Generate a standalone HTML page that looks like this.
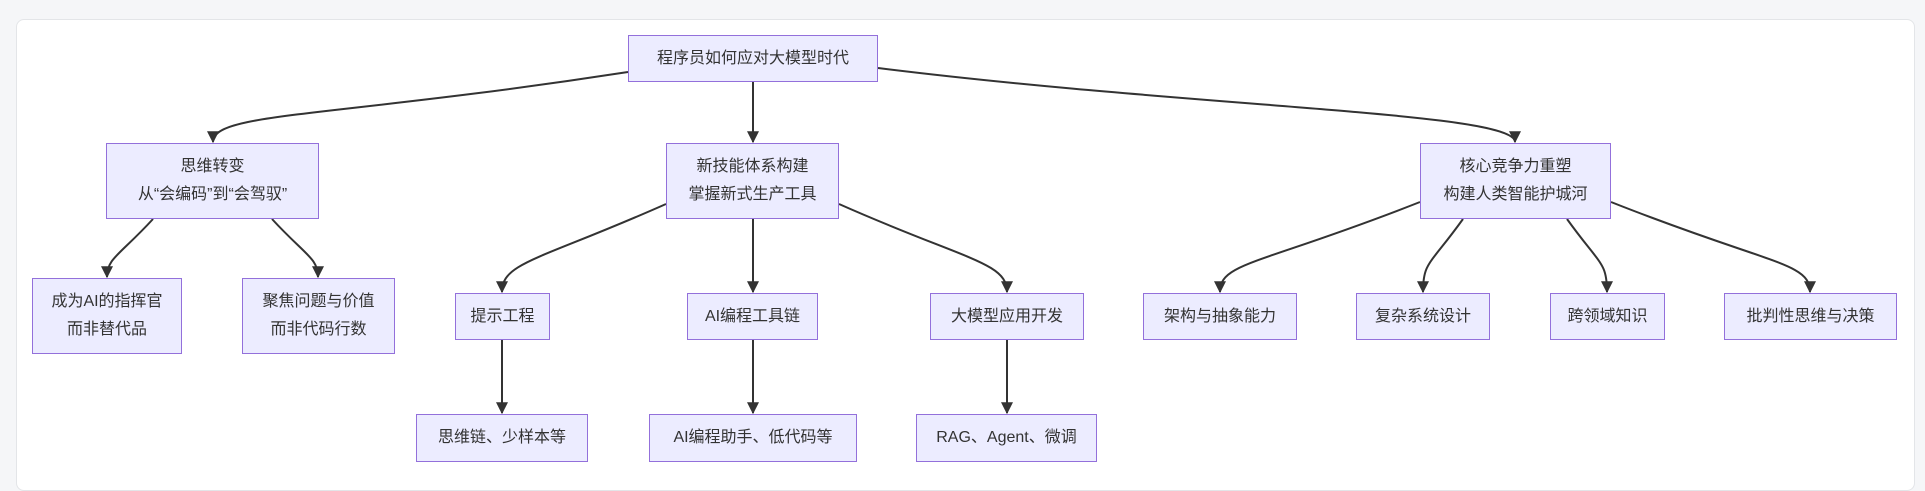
<!DOCTYPE html>
<html><head><meta charset="utf-8"><style>
html,body{margin:0;padding:0;background:#f5f6f8;width:1925px;height:477px;overflow:hidden}
.card{position:absolute;left:16px;top:19px;width:1897px;height:470px;background:#fff;border:1px solid #e3e5e8;border-radius:8px}
.n{position:absolute;box-sizing:border-box;background:#ECECFF;border:1px solid #9370DB;display:flex;align-items:center;justify-content:center;text-align:center;font-family:"Liberation Sans","Noto Sans CJK SC",sans-serif;font-size:16px;color:#333;line-height:28px}
svg{position:absolute;left:0;top:0}
</style></head><body>
<div class="card"></div>
<svg width="1925" height="477">
<defs><marker id="a" viewBox="0 0 10 10" refX="9" refY="5" markerWidth="12" markerHeight="12" orient="auto" markerUnits="userSpaceOnUse"><path d="M0,0L10,5L0,10z" fill="#333"/></marker></defs>
<g fill="none" stroke="#333" stroke-width="2" marker-end="url(#a)">
<path d="M628,72 C330,118 213,112 213,142"/>
<path d="M753,82 L753,142"/>
<path d="M878,68 C1200,108 1515,112 1515,142"/>
<path d="M153,219 C120,255 107,258 107,277"/>
<path d="M272,219 C305,255 318,258 318,277"/>
<path d="M666,204 C540,260 502,262 502,292"/>
<path d="M753,219 L753,292"/>
<path d="M839,204 C965,260 1007,262 1007,292"/>
<path d="M1420,202 C1260,265 1220,262 1220,292"/>
<path d="M1463,219 C1430,265 1423,262 1423,292"/>
<path d="M1567,219 C1600,265 1607,262 1607,292"/>
<path d="M1611,202 C1770,265 1810,262 1810,292"/>
<path d="M502,340 L502,413"/>
<path d="M753,340 L753,413"/>
<path d="M1007,340 L1007,413"/>
</g></svg>
<div class="n" style="left:628px;top:35px;width:250px;height:47px">程序员如何应对大模型时代</div>
<div class="n" style="left:106px;top:143px;width:213px;height:76px">思维转变<br>从“会编码”到“会驾驭”</div>
<div class="n" style="left:666px;top:143px;width:173px;height:76px">新技能体系构建<br>掌握新式生产工具</div>
<div class="n" style="left:1420px;top:143px;width:191px;height:76px">核心竞争力重塑<br>构建人类智能护城河</div>
<div class="n" style="left:32px;top:278px;width:150px;height:76px">成为AI的指挥官<br>而非替代品</div>
<div class="n" style="left:242px;top:278px;width:153px;height:76px">聚焦问题与价值<br>而非代码行数</div>
<div class="n" style="left:455px;top:293px;width:95px;height:47px">提示工程</div>
<div class="n" style="left:687px;top:293px;width:131px;height:47px">AI编程工具链</div>
<div class="n" style="left:930px;top:293px;width:154px;height:47px">大模型应用开发</div>
<div class="n" style="left:1143px;top:293px;width:154px;height:47px">架构与抽象能力</div>
<div class="n" style="left:1356px;top:293px;width:134px;height:47px">复杂系统设计</div>
<div class="n" style="left:1550px;top:293px;width:115px;height:47px">跨领域知识</div>
<div class="n" style="left:1724px;top:293px;width:173px;height:47px">批判性思维与决策</div>
<div class="n" style="left:416px;top:414px;width:172px;height:48px">思维链、少样本等</div>
<div class="n" style="left:649px;top:414px;width:208px;height:48px">AI编程助手、低代码等</div>
<div class="n" style="left:916px;top:414px;width:181px;height:48px">RAG、Agent、微调</div>
</body></html>
